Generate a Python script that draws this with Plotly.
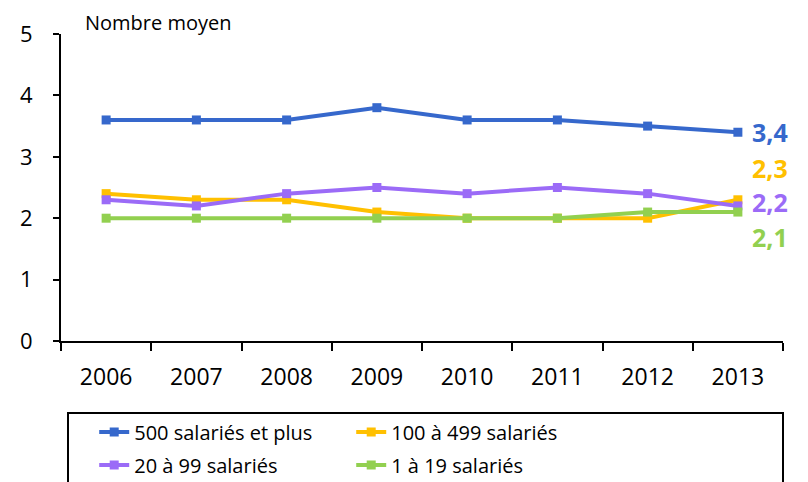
import plotly.graph_objects as go

years = ["2006", "2007", "2008", "2009", "2010", "2011", "2012", "2013"]
s500 = [3.6, 3.6, 3.6, 3.8, 3.6, 3.6, 3.5, 3.4]
s100 = [2.4, 2.3, 2.3, 2.1, 2.0, 2.0, 2.0, 2.3]
s20 = [2.3, 2.2, 2.4, 2.5, 2.4, 2.5, 2.4, 2.2]
s1 = [2.0, 2.0, 2.0, 2.0, 2.0, 2.0, 2.1, 2.1]
names = ["500 salariés et plus", "100 à 499 salariés", "20 à 99 salariés", "1 à 19 salariés"]
end_labels = ["3,4", "2,3", "2,2", "2,1"]
colors = ["#3668CC", "#FFC000", "#9B6BF7", "#92D050"]
label_shift = [0, 32, 4, -25]
legends = ["legend", "legend", "legend2", "legend2"]

FONT = "Open Sans"
fig = go.Figure()
for vals, name, col, lg in zip([s500, s100, s20, s1], names, colors, legends):
    fig.add_trace(go.Scatter(
        x=years, y=vals, name=name, mode="lines+markers",
        line=dict(color=col, width=4),
        marker=dict(symbol="square", size=9, color=col),
        legend=lg,
    ))

last = len(years) - 1
for vals, lab, col, sh in zip([s500, s100, s20, s1], end_labels, colors, label_shift):
    fig.add_annotation(xref="x", yref="y", x=last, y=vals[-1], text="<b>%s</b>" % lab,
                       showarrow=False, xanchor="left", yanchor="middle", xshift=12, yshift=sh,
                       font=dict(family=FONT, size=25, color=col))

fig.add_annotation(xref="paper", yref="paper", x=0.03, y=1.038, text="Nombre moyen",
                   showarrow=False, xanchor="left", yanchor="middle",
                   font=dict(family=FONT, size=20, color="black"))

# legend frame
fig.add_shape(type="rect", xref="paper", yref="paper",
              x0=(68 - 61) / 722, x1=(783 - 61) / 722,
              y0=(341 - 413) / 307, y1=(341 - 500) / 307,
              line=dict(color="black", width=2), fillcolor="rgba(0,0,0,0)")

fig.update_layout(
    width=800, height=474,
    margin=dict(l=53, r=25, t=26, b=141, autoexpand=False),
    paper_bgcolor="white", plot_bgcolor="white",
    font=dict(family=FONT, color="black"),
    showlegend=True,
    legend=dict(orientation="h", x=0.046, y=(341 - 432) / 307, xanchor="left", yanchor="middle",
                entrywidth=212, font=dict(family=FONT, size=20), bgcolor="rgba(0,0,0,0)"),
    legend2=dict(orientation="h", x=0.046, y=(341 - 465) / 307, xanchor="left", yanchor="middle",
                 entrywidth=212, font=dict(family=FONT, size=20), bgcolor="rgba(0,0,0,0)"),
)
fig.update_xaxes(
    type="category", range=[-0.5, 7.5], showline=True, linecolor="black", linewidth=2,
    ticks="outside", tickson="boundaries", ticklen=8, tickwidth=2, tickcolor="black",
    showgrid=False, zeroline=False, tickfont=dict(family=FONT, size=23),
    ticklabelstandoff=14, automargin=False,
)
fig.update_yaxes(
    range=[0, 5], dtick=1, showline=True, linecolor="black", linewidth=2,
    ticks="outside", ticklen=6, tickwidth=2, tickcolor="black",
    showgrid=False, zeroline=False, tickfont=dict(family=FONT, size=22),
    ticklabelstandoff=16, automargin=False,
)
fig.write_html("out.html")
